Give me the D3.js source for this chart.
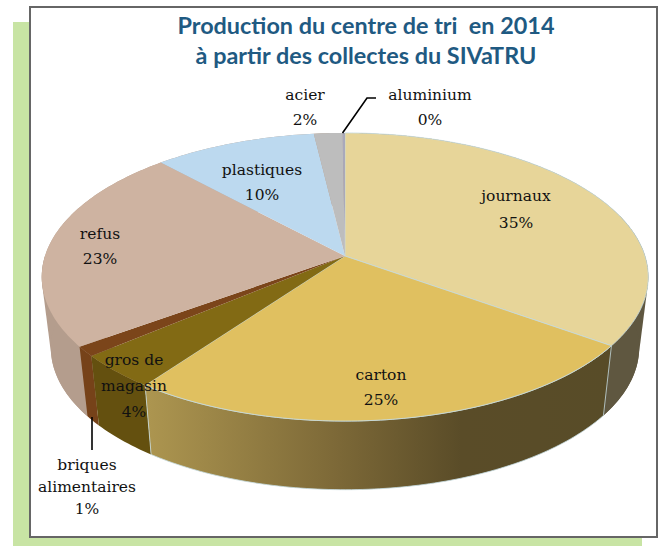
<!DOCTYPE html>
<html>
<head>
<meta charset="utf-8">
<script src="https://cdnjs.cloudflare.com/ajax/libs/d3/7.8.5/d3.min.js"></script>
<style>
  html, body { margin: 0; padding: 0; background: #fff; }
  svg { display: block; }
</style>
</head>
<body>
<script>
// values, labels show them rounded
const categories = ['journaux', 'carton', 'gros de magasin', 'briques alimentaires', 'refus', 'plastiques', 'acier', 'aluminium'];
const shares = [34.9, 25.1, 3.9, 1.1, 23.1, 10.0, 1.75, 0.15];
const topColors = ['#e7d599', '#e0c060', '#826a14', '#7b451a', '#ceb3a1', '#bcd9ef', '#bdbdbd', '#a9a9bb'];
const titleLines = ['Production du centre de tri\u00a0 en 2014', 'à partir des collectes du SIVaTRU'];

const width = 664;
const height = 546;

const svg = d3.select('body').append('svg')
    .attr('width', width)
    .attr('height', height);

// backdrop and frame
svg.append('rect').attr('x', 13).attr('y', 22).attr('width', 629).attr('height', 524).attr('fill', '#c8e4a4');
svg.append('rect').attr('x', 30).attr('y', 7).attr('width', 627).attr('height', 530)
    .attr('fill', '#fff').attr('stroke', '#666').attr('stroke-width', 2);

// wall gradients run left to right across the whole pie
const defs = svg.append('defs');
function wallGradient(id, stops) {
    const g = defs.append('linearGradient').attr('id', id)
        .attr('gradientUnits', 'userSpaceOnUse')
        .attr('x1', 145).attr('x2', 610).attr('y1', 0).attr('y2', 0);
    stops.forEach(([o, c]) => g.append('stop').attr('offset', o).attr('stop-color', c));
}
wallGradient('wallCarton', [[0, '#ad9650'], [0.4, '#7e6a38'], [0.68, '#5a4c28'], [1, '#584c28']]);

const wallFills = ['#5f5740', 'url(#wallCarton)', '#64500f', '#764219', '#b49d8d', '#b49d8d', '#b49d8d', '#b49d8d'];

// perspective disc: the apex sits above the middle of the ellipse
const persp = 0.1457;
function projector(cx, cy, rx, ry) {
    return angle => {
        const u = Math.sin(angle);
        const v = -Math.cos(angle);
        const d = 1 - persp * v;
        return [cx + rx * u / d, cy + ry * v / d];
    };
}
const topRim = projector(345, 256, 300, 141);
const bottomRim = projector(345, 327, 291, 139);

const pie = d3.pie().sort(null).value(d => d);
const arcs = pie(shares);

function arcPoints(rim, a0, a1) {
    const n = Math.max(2, Math.ceil((a1 - a0) * 60));
    return d3.range(n + 1).map(i => rim(a0 + (a1 - a0) * i / n));
}
const line = d3.line();

// side silhouettes, so the outline runs straight from the top rim to the bottom rim
const sides = [
    { a0: Math.PI * 0.5, a1: Math.PI * 0.7, fill: wallFills[0] },
    { a0: Math.PI * 1.3, a1: Math.PI * 1.5, fill: wallFills[4] }
];
svg.append('g').selectAll('path')
    .data(sides)
    .join('path')
    .attr('d', s => line(d3.polygonHull([
        ...arcPoints(topRim, s.a0 - 0.3, s.a1),
        ...arcPoints(bottomRim, s.a0, s.a1)
    ])) + 'Z')
    .attr('fill', s => s.fill);

// walls first, the top faces cover the far side
const order = [4, 5, 6, 7, 0, 3, 2, 1];
svg.append('g').selectAll('path')
    .data(order)
    .join('path')
    .attr('d', i => line([
        ...arcPoints(topRim, arcs[i].startAngle, arcs[i].endAngle),
        ...arcPoints(bottomRim, arcs[i].startAngle, arcs[i].endAngle).reverse()
    ]) + 'Z')
    .attr('fill', i => wallFills[i])
    .attr('stroke', i => (i === 1 ? '#c5dbe0' : 'none'))
    .attr('stroke-width', 0.8);

svg.append('g').selectAll('path')
    .data(arcs)
    .join('path')
    .attr('d', d => line([[345, 256], ...arcPoints(topRim, d.startAngle, d.endAngle)]) + 'Z')
    .attr('fill', (d, i) => topColors[i])
    .attr('stroke', (d, i) => (i < 2 ? '#c5dbe0' : 'none'))
    .attr('stroke-width', 0.8);

// leader lines
const leader = svg.append('g').attr('fill', 'none').attr('stroke', '#000').attr('stroke-width', 1.6);
leader.append('path').attr('d', line([topRim(arcs[7].startAngle), [367, 98], [376, 98]]));
leader.append('path').attr('d', line([[92, 417], [92, 450]]));

// title
svg.append('g')
    .attr('font-family', 'Lato, sans-serif')
    .attr('font-weight', 'bold')
    .attr('font-size', 23.4)
    .attr('fill', '#1f5a82')
    .attr('text-anchor', 'middle')
    .selectAll('text')
    .data(titleLines)
    .join('text')
    .attr('x', 366)
    .attr('y', (d, i) => 34 + i * 30)
    .text(d => d);

// labels: name lines, x, first baseline; the percent line comes from the share
const labelLayout = [
    { lines: ['journaux'], x: 516, y: 201, step: 27 },
    { lines: ['carton'], x: 381, y: 380, step: 25 },
    { lines: ['gros de', 'magasin'], x: 134, y: 365, step: 26 },
    { lines: ['briques', 'alimentaires'], x: 87, y: 470, step: 22 },
    { lines: ['refus'], x: 100, y: 239, step: 25 },
    { lines: ['plastiques'], x: 262, y: 175, step: 25 },
    { lines: ['acier'], x: 305, y: 100, step: 25 },
    { lines: ['aluminium'], x: 430, y: 100, step: 25 }
];
const fmt = v => Math.round(v) + '%';

const labels = svg.append('g')
    .attr('font-family', '"DejaVu Serif", serif')
    .attr('font-size', 15.5)
    .attr('fill', '#111')
    .attr('text-anchor', 'middle')
    .selectAll('text')
    .data(labelLayout)
    .join('text');

labels.selectAll('tspan')
    .data((d, i) => [...d.lines, fmt(shares[i])].map((t, k) => ({ t, x: d.x, y: d.y + k * d.step })))
    .join('tspan')
    .attr('x', d => d.x)
    .attr('y', d => d.y)
    .text(d => d.t);
</script>
</body>
</html>
